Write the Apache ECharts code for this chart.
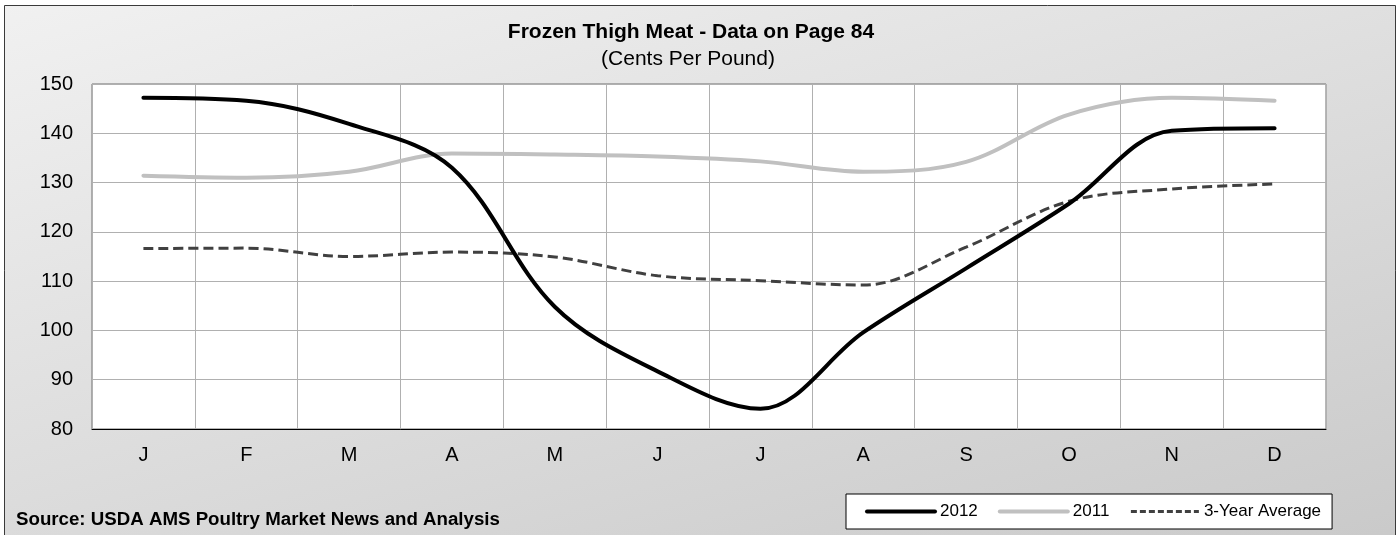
<!DOCTYPE html>
<html>
<head>
<meta charset="utf-8">
<title>Frozen Thigh Meat</title>
<script src="https://cdn.jsdelivr.net/npm/echarts@6/dist/echarts.min.js"></script>
<style>
  html, body { margin: 0; padding: 0; background: #ffffff; }
  #chart { width: 1399px; height: 535px; }
</style>
</head>
<body>
<div id="chart"></div>
<script>
// Monthly prices, cents per pound
const months = ['J', 'F', 'M', 'A', 'M', 'J', 'J', 'A', 'S', 'O', 'N', 'D'];
const price2012 = [147.2, 146.6, 141.9, 133.0, 104.8, 91.7, 84.1, 99.6, 112.6, 125.7, 140.5, 141.0];
const price2011 = [131.4, 131.0, 132.2, 135.9, 135.7, 135.3, 134.3, 132.2, 134.2, 143.8, 147.2, 146.6];
const threeYearAvg = [116.6, 116.7, 115.0, 115.9, 114.9, 111.1, 110.1, 109.2, 116.9, 126.2, 128.7, 129.7];
const yTicks = { min: 80, max: 150, step: 10 };

const FONT = 'Arial, "Liberation Sans", sans-serif';

const chart = echarts.init(document.getElementById('chart'), null, { renderer: 'canvas' });

// outer panel shading runs diagonally, light at top-left
const panelFill = new echarts.graphic.LinearGradient(0, 0, 261, 888, [
  { offset: 0, color: '#f1f1f1' },
  { offset: 1, color: '#c9c9c9' }
], true);

chart.setOption({
  animation: false,
  backgroundColor: '#ffffff',
  textStyle: { fontFamily: FONT },
  graphic: [
    {
      type: 'rect',
      z: -10,
      silent: true,
      shape: { x: 4.5, y: 5.5, width: 1391, height: 540 },
      style: { fill: panelFill, stroke: '#3a3a3a', lineWidth: 1 }
    },
    {
      type: 'text',
      x: 691,
      y: 32.5,
      style: {
        text: 'Frozen Thigh Meat - Data on Page 84',
        font: 'bold 21px ' + FONT,
        fill: '#000',
        align: 'center',
        verticalAlign: 'middle'
      }
    },
    {
      type: 'text',
      x: 688,
      y: 59,
      style: {
        text: '(Cents Per Pound)',
        font: '21px ' + FONT,
        fill: '#000',
        align: 'center',
        verticalAlign: 'middle'
      }
    },
    {
      type: 'text',
      x: 16,
      y: 520,
      style: {
        text: 'Source: USDA AMS Poultry Market News and Analysis',
        font: 'bold 18.7px ' + FONT,
        fill: '#000',
        verticalAlign: 'middle'
      }
    }
  ],
  grid: {
    left: 92,
    right: 73,
    top: 84,
    bottom: 106,
    show: true,
    backgroundColor: '#ffffff',
    borderColor: '#6e6e6e',
    borderWidth: 1
  },
  legend: {
    left: 846,
    top: 494,
    padding: [9, 11, 9, 19],
    backgroundColor: '#ffffff',
    borderColor: '#000000',
    borderWidth: 1,
    itemWidth: 68,
    itemHeight: 14,
    itemGap: 20,
    itemStyle: { opacity: 0 },
    textStyle: { fontSize: 17, color: '#000', fontFamily: FONT },
    data: [
      { name: '2012', itemStyle: { opacity: 0 }, lineStyle: { width: 4 } },
      { name: '2011', itemStyle: { opacity: 0 }, lineStyle: { width: 4 } },
      { name: '3-Year Average', itemStyle: { opacity: 0 }, lineStyle: { width: 3, type: [6, 3] } }
    ]
  },
  xAxis: {
    type: 'category',
    data: months,
    boundaryGap: true,
    axisLine: { show: true, lineStyle: { color: '#000', width: 1 } },
    axisTick: { show: false },
    axisLabel: { fontSize: 20, color: '#000', margin: 16, fontFamily: FONT },
    splitLine: { show: true, lineStyle: { color: '#b0b0b0', width: 1 } }
  },
  yAxis: {
    type: 'value',
    min: yTicks.min,
    max: yTicks.max,
    interval: yTicks.step,
    axisLine: { show: false },
    axisTick: { show: false },
    axisLabel: { fontSize: 20, color: '#000', margin: 19, fontFamily: FONT },
    splitLine: { show: true, lineStyle: { color: '#b0b0b0', width: 1 } }
  },
  series: [
    {
      name: '2012',
      type: 'line',
      data: price2012,
      smooth: 0.35,
      symbol: 'none',
      z: 4,
      lineStyle: { color: '#000000', width: 4, cap: 'round' },
      itemStyle: { color: '#000000' }
    },
    {
      name: '2011',
      type: 'line',
      data: price2011,
      smooth: 0.35,
      symbol: 'none',
      z: 3,
      lineStyle: { color: '#c0c0c0', width: 4, cap: 'round' },
      itemStyle: { color: '#c0c0c0' }
    },
    {
      name: '3-Year Average',
      type: 'line',
      data: threeYearAvg,
      smooth: 0.35,
      symbol: 'none',
      z: 2,
      lineStyle: { color: '#404040', width: 3, type: [10, 5] },
      itemStyle: { color: '#404040' }
    }
  ]
});
</script>
</body>
</html>
